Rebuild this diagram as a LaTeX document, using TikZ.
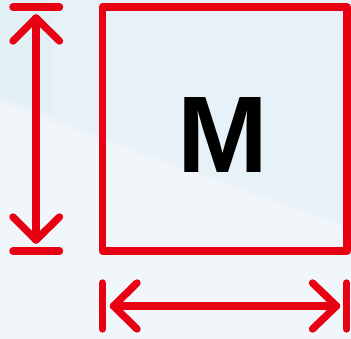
\documentclass[tikz,border=0pt]{standalone}
\usepackage{fontspec}
\setmainfont{Liberation Sans}
\definecolor{mred}{HTML}{E80013}
\definecolor{bglow}{HTML}{F0F6FA}
\definecolor{bghigh}{HTML}{E6F2F8}
\definecolor{bgpatch}{HTML}{DDEDF5}
\tikzset{
  redline/.style={draw=mred,line width=7.4pt,line cap=round,line join=round},
  framebox/.style={draw=mred,line width=7.4pt,line join=round},
}
\begin{document}
\begin{tikzpicture}[x=1pt,y=-1pt]
\useasboundingbox (0,0) rectangle (351,339);
% background
\fill[bglow] (0,0) rectangle (351,339);
\foreach \d in {0,1,2,3,4,5,6,7}{
  \fill[bghigh,opacity=.25] (0,0) -- (351,0) -- ({351},{230-\d*2.5}) -- (0,{103-\d*1.5}) -- cycle;
}
\fill[bgpatch,opacity=.4] (0,0) -- (51,0) -- (51,114) -- (0,96) -- cycle;
% frame
\draw[framebox] (102.5,7) rectangle (347,251);
\node[font=\bfseries,text=black,inner sep=0pt] (m) at (222.5,135) {\fontsize{109}{109}\selectfont M};
% vertical dimension
\draw[redline] (13,7) -- (59.5,7);
\draw[redline] (13,251) -- (59.5,251);
\draw[redline] (36,18) -- (36,240);
\draw[redline] (13,41) -- (36,18) -- (59.5,41);
\draw[redline] (13,217) -- (36,240) -- (59.5,217);
% horizontal dimension
\draw[redline] (102.5,283) -- (102.5,329);
\draw[redline] (346.7,283) -- (346.7,329);
\draw[redline] (113.5,306) -- (336.5,306);
\draw[redline] (137,283) -- (113.5,306) -- (137,329);
\draw[redline] (312.5,283) -- (336.5,306) -- (312.5,329);
\end{tikzpicture}
\end{document}
